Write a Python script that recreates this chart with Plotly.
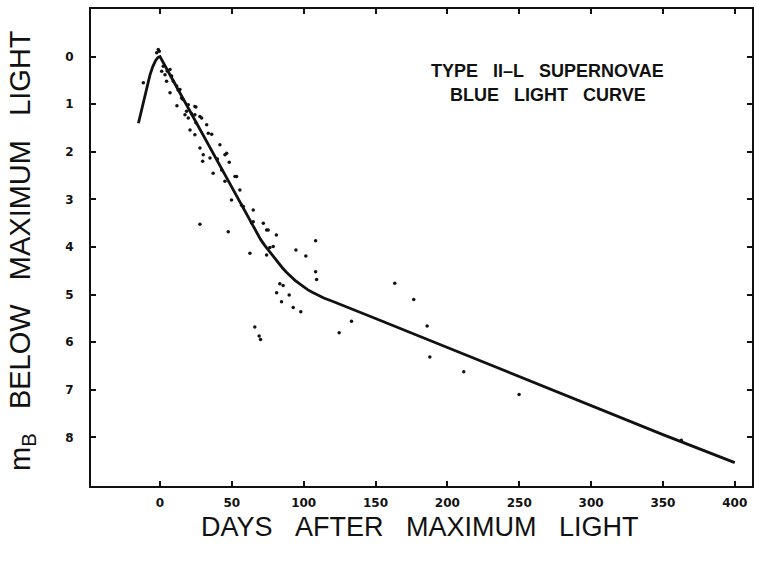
import plotly.graph_objects as go

# Mean blue light curve of Type II-L supernovae (days after maximum vs. mag below max)
curve_days = [-15, -13, -11, -9, -7, -5, -3, -1.5, 0, 10, 20, 30, 40, 50, 60, 67,
              70, 73, 76, 79, 82, 85, 88, 91, 94, 97, 100, 103, 106, 109, 114, 120,
              126, 132, 150, 200, 250, 300, 350, 400]
curve_mag = [1.40, 1.15, 0.88, 0.62, 0.39, 0.21, 0.08, 0.02, 0.0, 0.55, 1.10, 1.65,
             2.20, 2.75, 3.30, 3.68, 3.84, 3.97, 4.09, 4.21, 4.32, 4.43, 4.53, 4.62,
             4.70, 4.77, 4.84, 4.90, 4.95, 5.00, 5.07, 5.14, 5.21, 5.28, 5.50, 6.11,
             6.72, 7.33, 7.94, 8.53]

# Individual photometric observations
obs_days = [-11.6, -2.3, -1.2, -0.5, 1.2, 2.3, 3.5, 4.6, 7.0, 7.0, 8.1, 9.3, 11.6,
            12.6, 13.9, 15.0, 11.8, 18.5, 19.7, 19.7, 17.4, 20.9, 24.3, 24.3, 25.0,
            25.0, 27.8, 29.0, 32.5, 33.6, 36.0, 24.3, 27.8, 30.1, 29.7, 34.8, 41.7,
            45.2, 46.4, 48.2, 37.0, 42.9, 52.2, 53.3, 45.2, 49.8, 55.6, 56.8, 64.9,
            63.7, 64.9, 71.9, 74.2, 75.3, 81.0, 76.5, 78.8, 74.2, 62.6, 27.8, 47.5,
            108.3, 94.6, 101.5, 108.3, 109.0, 83.4, 85.7, 81.2, 89.9, 84.6, 92.7,
            98.0, 66.0, 69.0, 70.0, 124.7, 133.3, 163.4, 176.6, 185.9, 187.8, 211.4,
            249.9, 362.8, 5.0, 16.0, 22.0, 40.0, 58.0]
obs_mag = [0.55, -0.08, -0.15, -0.11, 0.31, 0.20, 0.38, 0.52, 0.27, 0.76, 0.41, 0.52,
           0.62, 0.70, 0.69, 0.87, 1.03, 1.15, 1.01, 1.29, 1.22, 1.54, 1.05, 1.64, 1.06,
           1.39, 1.26, 1.29, 1.43, 1.61, 1.63, 1.22, 1.92, 2.06, 2.20, 2.13, 1.85,
           2.06, 2.03, 2.22, 2.45, 2.38, 2.52, 2.52, 2.62, 3.01, 2.80, 3.12, 3.22,
           3.49, 3.47, 3.50, 3.64, 3.64, 3.75, 4.01, 3.99, 4.17, 4.13, 3.52, 3.68,
           3.87, 4.06, 4.19, 4.52, 4.68, 4.77, 4.81, 4.96, 5.01, 5.15, 5.27,
           5.36, 5.68, 5.87, 5.94, 5.80, 5.56, 4.76, 5.10, 5.66, 6.31, 6.62,
           7.10, 8.06, 0.30, 0.90, 1.20, 2.15, 3.15]

x_ticks = [0, 50, 100, 150, 200, 250, 300, 350, 400]
y_ticks = [0, 1, 2, 3, 4, 5, 6, 7, 8]

ink = "#111111"
tick_font = dict(family="DejaVu Sans", size=12, color=ink, weight="bold")

fig = go.Figure()
fig.add_trace(go.Scatter(
    x=obs_days, y=obs_mag, mode="markers",
    marker=dict(size=3.5, color=ink, symbol="circle"),
    showlegend=False, hoverinfo="skip"))
fig.add_trace(go.Scatter(
    x=curve_days, y=curve_mag, mode="lines",
    line=dict(color=ink, width=2.8, shape="linear"),
    showlegend=False, hoverinfo="skip"))

axis_common = dict(
    showline=True, linecolor=ink, linewidth=2, mirror="ticks",
    ticks="inside", ticklen=5, tickwidth=1.5, tickcolor=ink,
    showgrid=False, zeroline=False, tickfont=tick_font,
)

fig.update_xaxes(range=[-48, 412], tickvals=x_ticks, ticktext=[str(v) for v in x_ticks],
                 ticklabelstandoff=5, **axis_common)
fig.update_yaxes(range=[9.02, -1.0], tickvals=y_ticks, ticktext=[str(v) for v in y_ticks],
                 ticklabelstandoff=13, **axis_common)


def spaced(words, n):
    return ("&nbsp;" * n).join(words)


label_font = dict(family="Liberation Sans", size=18, color=ink, weight="bold")
annotations = [
    dict(text=spaced(["DAYS", "AFTER", "MAXIMUM", "LIGHT"], 3),
         xref="paper", yref="paper", x=0.4977, y=-0.086,
         xanchor="center", yanchor="middle", showarrow=False,
         font=dict(family="Liberation Sans", size=27, color=ink)),
    dict(text=spaced(["m<sub>B</sub>", "BELOW", "MAXIMUM", "LIGHT"], 3),
         xref="paper", yref="paper", x=-0.1044, y=0.4948, textangle=-90,
         xanchor="center", yanchor="middle", showarrow=False,
         font=dict(family="Liberation Sans", size=29, color=ink)),
    dict(text=spaced(["TYPE", "II\u2013L", "SUPERNOVAE"], 3),
         xref="x", yref="y", x=270, y=0.31, xanchor="center", yanchor="middle",
         showarrow=False, font=label_font),
    dict(text=spaced(["BLUE", "LIGHT", "CURVE"], 3),
         xref="x", yref="y", x=270, y=0.80, xanchor="center", yanchor="middle",
         showarrow=False, font=label_font),
]

fig.update_layout(
    width=757, height=567,
    margin=dict(l=91, r=5, t=9, b=81, autoexpand=False),
    paper_bgcolor="white", plot_bgcolor="white",
    annotations=annotations,
)

fig.write_html("out.html")
